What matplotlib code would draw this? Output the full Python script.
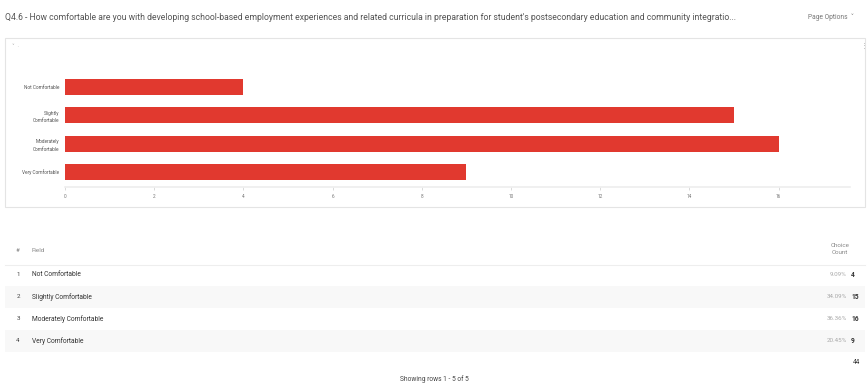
import numpy as np
import matplotlib
matplotlib.use("Agg")
from matplotlib import pyplot as plt
from matplotlib.patches import Rectangle

plt.rcParams['font.family'] = ['Roboto', 'DejaVu Sans']

# data
categories = ["Not Comfortable", "Slightly\nComfortable", "Moderately\nComfortable", "Very Comfortable"]
row_labels = ["Not Comfortable", "Slightly Comfortable", "Moderately Comfortable", "Very Comfortable"]
counts = [4, 15, 16, 9]
percents = ["9.09%", "34.09%", "36.36%", "20.45%"]
total = 44
x_ticks = [0, 2, 4, 6, 8, 10, 12, 14, 16]
title = ("Q4.6 - How comfortable are you with developing school-based employment experiences "
         "and related curricula in preparation for student's postsecondary education and community integratio...")

W, H = 868, 383


def fx(x):
    return x / W


def fy(y):
    return 1 - y / H


fig = plt.figure(figsize=(W / 100, H / 100), dpi=100)
fig.patch.set_facecolor("white")

# header
fig.text(fx(5), fy(17), title, fontsize=6.2, color="#555555", va="center", ha="left")
fig.text(fx(808), fy(17), "Page Options  \u02c5", fontsize=4.8, color="#777777", va="center", ha="left")

# chart panel (drawn behind the axes)
fig.add_artist(Rectangle((fx(5), fy(207)), fx(860) - fx(0), fy(38) - fy(207),
                         transform=fig.transFigure, facecolor="white", edgecolor="#e4e4e4",
                         lw=0.8, zorder=-5))
fig.text(fx(12), fy(46), "\u02c5  \u00b7", fontsize=4, color="#aaaaaa", va="center")
fig.text(fx(861), fy(46), "\u22ee", fontsize=5, color="#aaaaaa", va="center")

# bar chart axes
ax = fig.add_axes([fx(65), fy(187), fx(850) - fx(65), fy(73) - fy(187)])
ax.set_zorder(2)
ax.patch.set_alpha(0)
ypos = np.arange(len(categories))
ax.barh(ypos, counts, height=0.56, color="#e1392f")
ax.set_xlim(0, 785 / 44.6)
ax.set_ylim(3.53, -0.49)
ax.set_yticks(ypos)
ax.set_yticklabels(categories, fontsize=3.4, color="#555555", linespacing=1.6)
ax.set_xticks(x_ticks)
ax.set_xticklabels([str(t) for t in x_ticks], fontsize=3.4, color="#777777")
ax.tick_params(axis="y", length=0, pad=4)
ax.tick_params(axis="x", length=2, width=0.5, color="#cccccc", pad=3)
for s in ["top", "right", "left"]:
    ax.spines[s].set_visible(False)
ax.spines["bottom"].set_color("#eeeeee")
ax.spines["bottom"].set_linewidth(1.2)

# table
fig.text(fx(16), fy(250), "#", fontsize=4.5, color="#888888", va="center")
fig.text(fx(32), fy(250), "Field", fontsize=4.5, color="#888888", va="center")
fig.text(fx(840), fy(249), "Choice\nCount", fontsize=4.5, color="#888888", va="center",
         ha="center", linespacing=1.6)
fig.add_artist(plt.Line2D([fx(5), fx(865)], [fy(265), fy(265)], transform=fig.transFigure,
                          color="#eeeeee", lw=0.8, zorder=-4))

row_y = [275, 297, 319, 341]
for i, (lab, pct, c) in enumerate(zip(row_labels, percents, counts)):
    y = row_y[i]
    if i % 2 == 1:
        fig.add_artist(Rectangle((fx(5), fy(y + 11)), fx(860), fy(y - 11) - fy(y + 11),
                                 transform=fig.transFigure, facecolor="#f8f8f8",
                                 edgecolor="none", zorder=-4))
    fig.text(fx(18), fy(y), str(i + 1), fontsize=4.5, color="#444444", va="center", ha="center")
    fig.text(fx(32), fy(y), lab, fontsize=4.8, color="#333333", va="center")
    fig.text(fx(847), fy(y), pct, fontsize=4.5, color="#aaaaaa", va="center", ha="right")
    fig.text(fx(851), fy(y), str(c), fontsize=4.8, color="#333333", va="center", ha="left",
             fontweight="bold")

fig.text(fx(860), fy(363), str(total), fontsize=4.8, color="#333333", va="center", ha="right")
fig.text(fx(434), fy(379), "Showing rows 1 - 5 of 5", fontsize=4.8, color="#444444",
         va="center", ha="center")

fig.savefig("out.png", dpi=100, facecolor="white")
